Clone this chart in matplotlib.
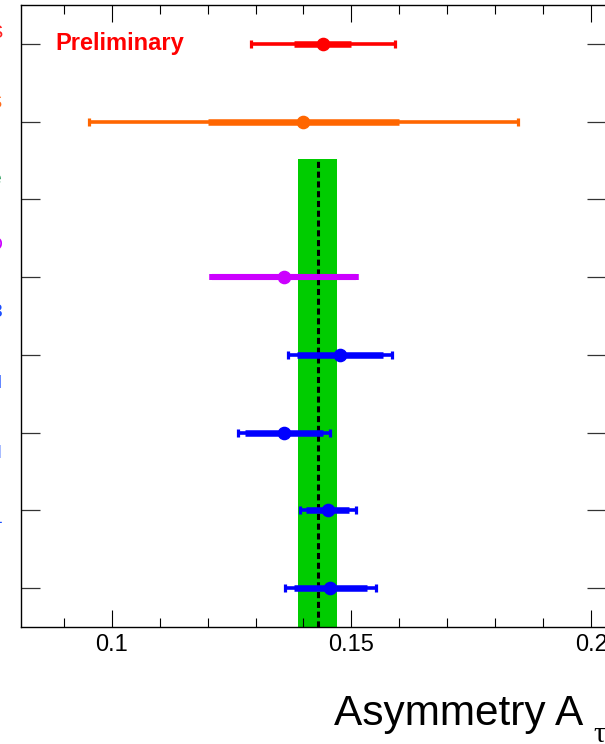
import numpy as np
import matplotlib
matplotlib.use("Agg")
import matplotlib.pyplot as plt
from matplotlib.ticker import MultipleLocator, FixedLocator

plt.rcParams["font.family"] = ["Liberation Sans", "DejaVu Sans"]

# Tau asymmetry measurements, listed top to bottom
meas_names = ["CMS", "ATLAS", "SLD", "L3", "DELPHI", "ALEPH", "OPAL"]
meas_rows = [8, 7, 5, 4, 3, 2, 1]
meas_value = [0.144, 0.140, 0.136, 0.1476, 0.1359, 0.1451, 0.1456]
meas_stat = [0.006, 0.020, np.nan, 0.0090, 0.0081, 0.0045, 0.0076]
meas_total = [0.015, 0.0447, 0.015, 0.0109, 0.0096, 0.0059, 0.0095]
meas_colors = ["#ff0000", "#ff6600", "#cc00ff", "#0000ff", "#0000ff", "#0000ff", "#0000ff"]

# Combined value shown as a band
avg_name = "Average"
avg_row = 6
avg_value = 0.1430
avg_error = 0.0041
avg_color = "#00cc00"

x_ticks = [0.1, 0.15, 0.2]
x_ticklabels = ["0.1", "0.15", "0.2"]

W, H = 605, 744
fig = plt.figure(figsize=(W / 100, H / 100), dpi=100)
ax_l, ax_r, ax_t, ax_b = 21.3, 605.5, 5.3, 626.7
ax = fig.add_axes([ax_l / W, 1 - ax_b / H, (ax_r - ax_l) / W, (ax_b - ax_t) / H])

ax.set_xlim(0.08115, 0.2030)
ax.set_ylim(0.5, 8.5)

# average band and its central line
band_top = 6.52
ax.fill_betweenx([0.5, band_top], avg_value - avg_error, avg_value + avg_error,
                 color=avg_color, lw=0, zorder=1)
ax.vlines(avg_value, 0.5, band_top, colors="black", linewidth=2.2,
          linestyles=(0, (2, 1.2)), zorder=2)

# measurements: thin total error with caps, thick statistical error, marker
for name, row, v, st, tot, c in zip(meas_names, meas_rows, meas_value,
                                     meas_stat, meas_total, meas_colors):
    if np.isnan(st):
        ax.errorbar(v, row, xerr=tot, fmt="none", ecolor=c, elinewidth=4.4,
                    capsize=2.3, capthick=4.0, zorder=3)
    else:
        ax.errorbar(v, row, xerr=tot, fmt="none", ecolor=c, elinewidth=2.6,
                    capsize=2.8, capthick=2.3, zorder=3)
        ax.errorbar(v, row, xerr=st, fmt="none", ecolor=c, elinewidth=4.7,
                    capsize=0, zorder=4)
    ax.plot(v, row, "o", color=c, ms=8.8, mec=c, zorder=5)

# ticks
ax.xaxis.set_major_locator(FixedLocator(x_ticks))
ax.set_xticklabels(x_ticklabels)
ax.xaxis.set_minor_locator(MultipleLocator(0.01))
ax.set_yticks(range(1, 9))
ax.set_yticklabels([])
ax.tick_params(axis="x", which="major", direction="in", length=12.2, width=0.8,
               top=True, bottom=True, labelsize=17, pad=5, colors="black")
ax.tick_params(axis="x", which="minor", direction="in", length=6.5, width=0.8,
               top=True, bottom=True)
ax.tick_params(axis="y", which="major", direction="in", length=13.7, width=0.9,
               left=True, right=True, color="#333333")
ax.tick_params(axis="y", which="minor", left=False, right=False)
for s in ax.spines.values():
    s.set_linewidth(1.0)
    s.set_color("black")

ax.text(0.0577, 0.928, "Preliminary", transform=ax.transAxes, color="#ff0000",
        fontsize=17, fontweight="bold", ha="left", va="baseline")

# experiment names on the left margin
row_names = ["CMS", "ATLAS", avg_name, "SLD", "L3", "DELPHI", "ALEPH", "OPAL"]
row_colors = ["#ff2020", "#ff6a1a", "#229955", "#cc00ff", "#1a4dff", "#1a4dff",
              "#1a4dff", "#1a4dff"]
name_baselines = [38, 108, 184, 250, 317, 388, 458, 523]
for n, c, yb in zip(row_names, row_colors, name_baselines):
    fig.text(3 / W, 1 - yb / H, n, color=c, fontsize=14, ha="right",
             va="baseline")

# axis title
fig.text(334 / W, 1 - 725 / H, "Asymmetry A", fontsize=30.5, ha="left",
         va="baseline", color="black")
fig.text(593 / W, 1 - 742 / H, "\u03c4", fontsize=21, ha="left", va="baseline",
         family=["Liberation Serif", "DejaVu Serif"], color="black")

fig.savefig("out.png", dpi=100)
